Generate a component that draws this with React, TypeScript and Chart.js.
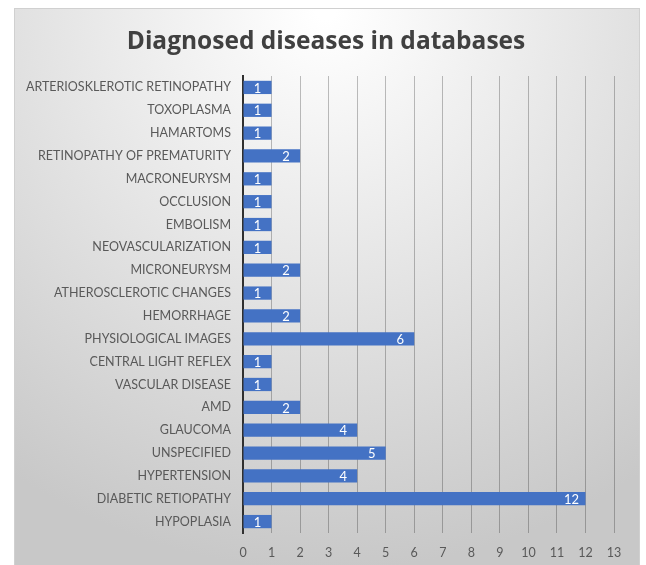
import React, { useEffect, useRef } from "react";
import { Chart, registerables } from "chart.js";

Chart.register(...registerables);

const categories = [
  "ARTERIOSKLEROTIC RETINOPATHY",
  "TOXOPLASMA",
  "HAMARTOMS",
  "RETINOPATHY OF PREMATURITY",
  "MACRONEURYSM",
  "OCCLUSION",
  "EMBOLISM",
  "NEOVASCULARIZATION",
  "MICRONEURYSM",
  "ATHEROSCLEROTIC CHANGES",
  "HEMORRHAGE",
  "PHYSIOLOGICAL IMAGES",
  "CENTRAL LIGHT REFLEX",
  "VASCULAR DISEASE",
  "AMD",
  "GLAUCOMA",
  "UNSPECIFIED",
  "HYPERTENSION",
  "DIABETIC RETIOPATHY",
  "HYPOPLASIA",
];

const counts = [1, 1, 1, 2, 1, 1, 1, 1, 2, 1, 2, 6, 1, 1, 2, 4, 5, 4, 12, 1];

const xMin = 0;
const xMax = 13;

const titleText = "Diagnosed diseases in databases";

const FONT = "Lato, 'Open Sans', sans-serif";
const TITLE_FONT = "'Open Sans', Lato, sans-serif";

const backgroundPlugin = {
  id: "bgPanel",
  beforeDraw(chart: any) {
    const { ctx, height } = chart;
    ctx.save();
    const x0 = 14, y0 = 8, x1 = 640, y1 = height;
    const g = ctx.createRadialGradient(326, 10, 10, 326, 10, 560);
    g.addColorStop(0, "#ffffff");
    g.addColorStop(1, "#c8c8c8");
    ctx.fillStyle = g;
    ctx.fillRect(x0, y0, x1 - x0, y1 - y0);
    ctx.strokeStyle = "#d0d0d0";
    ctx.lineWidth = 1;
    ctx.strokeRect(x0 + 0.5, y0 + 0.5, x1 - x0 - 1, y1 - y0);
    // title
    ctx.fillStyle = "#404040";
    ctx.font = `bold 24.5px ${TITLE_FONT}`;
    ctx.textAlign = "center";
    ctx.textBaseline = "middle";
    ctx.fillText(titleText, 326, 42);
    ctx.restore();
  },
};

const valueLabelPlugin = {
  id: "valueLabels",
  afterDatasetsDraw(chart: any) {
    const { ctx } = chart;
    const meta = chart.getDatasetMeta(0);
    const data = chart.data.datasets[0].data as number[];
    ctx.save();
    ctx.fillStyle = "#ffffff";
    ctx.font = `13px ${FONT}`;
    ctx.textAlign = "center";
    ctx.textBaseline = "middle";
    meta.data.forEach((bar: any, i: number) => {
      ctx.fillText(String(data[i]), bar.x - 14, bar.y + 1);
    });
    ctx.restore();
  },
};

export default function App() {
  const ref = useRef<HTMLCanvasElement | null>(null);
  useEffect(() => {
    if (!ref.current) return;
    const chart = new Chart(ref.current, {
      type: "bar",
      data: {
        labels: categories,
        datasets: [
          {
            data: counts,
            backgroundColor: "#4472C4",
            barPercentage: 0.58,
            categoryPercentage: 1,
          },
        ],
      },
      options: {
        indexAxis: "y",
        animation: false,
        responsive: false,
        maintainAspectRatio: false,
        layout: { padding: { left: 14, top: 76, right: 32, bottom: 0 } },
        plugins: {
          legend: { display: false },
          tooltip: { enabled: false },
          title: { display: false },
        },
        scales: {
          x: {
            min: xMin,
            max: xMax,
            ticks: {
              stepSize: 1,
              color: "#595959",
              font: { family: FONT, size: 12.5 },
              padding: 12,
            },
            grid: {
              color: "rgba(0,0,0,0.25)",
              lineWidth: 1,
              drawTicks: false,
            },
            border: { display: false },
            afterFit(scale: any) {
              scale.height = 32;
            },
          },
          y: {
            ticks: {
              color: "#595959",
              font: { family: FONT, size: 12.5 },
              padding: 12,
              autoSkip: false,
            },
            grid: { display: false, drawTicks: false },
            border: { display: true, color: "#303030", width: 2 },
            afterFit(scale: any) {
              scale.width = 229;
            },
          },
        },
      },
      plugins: [backgroundPlugin, valueLabelPlugin],
    });
    return () => chart.destroy();
  }, []);
  return (
    <div style={{ position: "absolute", left: 0, top: 0, width: 646, height: 565 }}>
      <canvas ref={ref} width={646} height={565} style={{ display: "block" }} />
    </div>
  );
}
